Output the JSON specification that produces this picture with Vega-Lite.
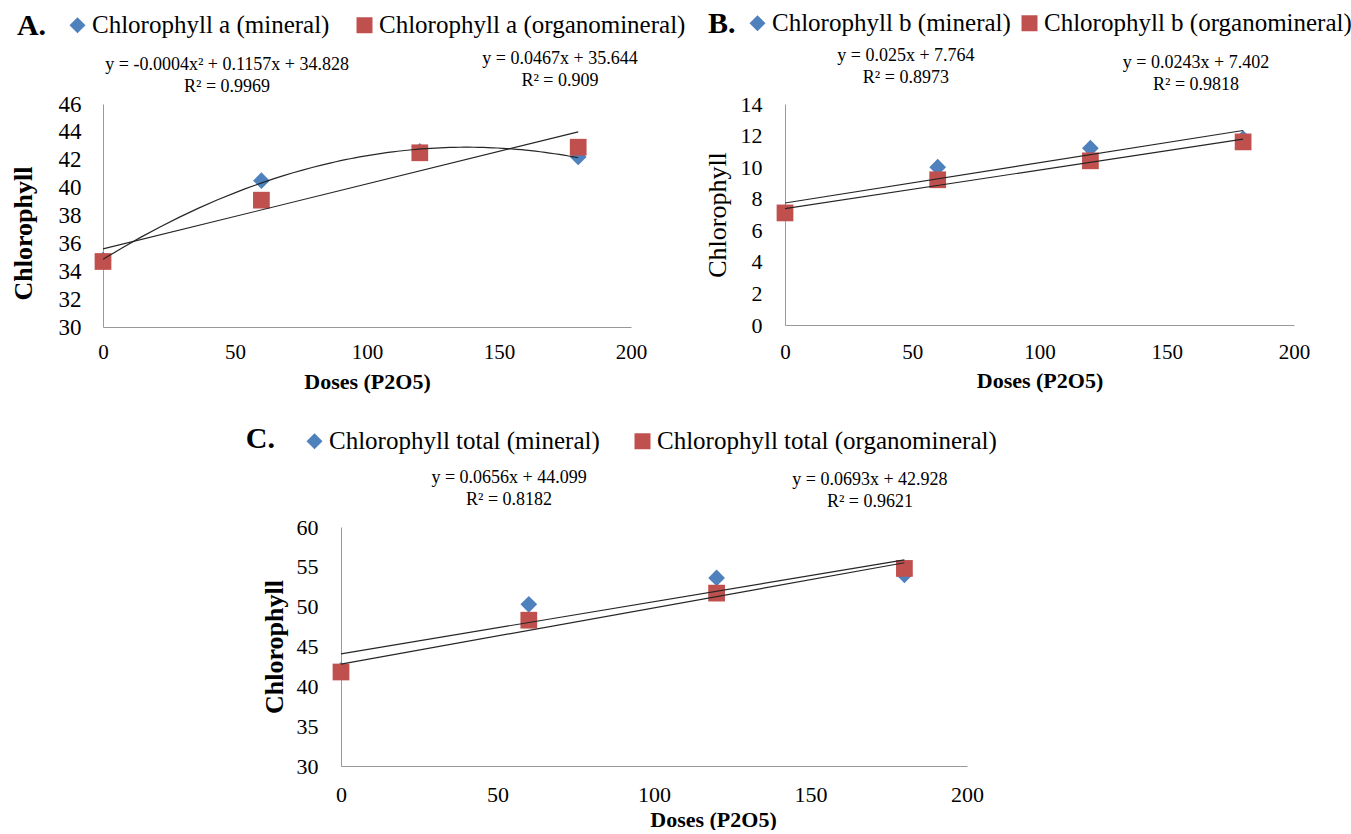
{
  "$schema": "https://vega.github.io/schema/vega-lite/v6.json",
  "background": "white",
  "padding": {"left": 10, "top": 9, "right": 0, "bottom": 0},
  "datasets": {
    "a": [
      {"dose": 0, "value": 34.8, "series": "Chlorophyll a (mineral)"},
      {"dose": 60, "value": 40.5, "series": "Chlorophyll a (mineral)"},
      {"dose": 120, "value": 42.6, "series": "Chlorophyll a (mineral)"},
      {"dose": 180, "value": 42.2, "series": "Chlorophyll a (mineral)"},
      {"dose": 0, "value": 34.7, "series": "Chlorophyll a (organomineral)"},
      {"dose": 60, "value": 39.1, "series": "Chlorophyll a (organomineral)"},
      {"dose": 120, "value": 42.5, "series": "Chlorophyll a (organomineral)"},
      {"dose": 180, "value": 42.9, "series": "Chlorophyll a (organomineral)"}
    ],
    "b": [
      {"dose": 0, "value": 7.1, "series": "Chlorophyll b (mineral)"},
      {"dose": 60, "value": 10.0, "series": "Chlorophyll b (mineral)"},
      {"dose": 120, "value": 11.2, "series": "Chlorophyll b (mineral)"},
      {"dose": 180, "value": 11.8, "series": "Chlorophyll b (mineral)"},
      {"dose": 0, "value": 7.1, "series": "Chlorophyll b (organomineral)"},
      {"dose": 60, "value": 9.2, "series": "Chlorophyll b (organomineral)"},
      {"dose": 120, "value": 10.4, "series": "Chlorophyll b (organomineral)"},
      {"dose": 180, "value": 11.6, "series": "Chlorophyll b (organomineral)"}
    ],
    "c": [
      {"dose": 0, "value": 42.0, "series": "Chlorophyll total (mineral)"},
      {"dose": 60, "value": 50.3, "series": "Chlorophyll total (mineral)"},
      {"dose": 120, "value": 53.6, "series": "Chlorophyll total (mineral)"},
      {"dose": 180, "value": 54.0, "series": "Chlorophyll total (mineral)"},
      {"dose": 0, "value": 41.8, "series": "Chlorophyll total (organomineral)"},
      {"dose": 60, "value": 48.3, "series": "Chlorophyll total (organomineral)"},
      {"dose": 120, "value": 51.7, "series": "Chlorophyll total (organomineral)"},
      {"dose": 180, "value": 54.8, "series": "Chlorophyll total (organomineral)"}
    ]
  },
  "config": {
    "view": {"stroke": null},
    "font": "Liberation Serif",
    "axis": {"grid": false, "ticks": false, "domainColor": "#999999", "domainWidth": 1, "labelColor": "black", "titleColor": "black", "labelFont": "Liberation Serif", "titleFont": "Liberation Serif", "labelFlush": false, "labelOverlap": false, "labelSeparation": 0, "labelBound": false},
    "axisY": {"labelOverlap": false},
    "axisQuantitative": {"labelOverlap": false},
    "legend": {"labelFont": "Liberation Serif", "labelColor": "black", "labelFontSize": 25, "labelLimit": 0, "symbolSize": 256, "labelOffset": 2, "padding": 0, "symbolStrokeWidth": 0, "direction": "horizontal", "orient": "none"},
    "text": {"font": "Liberation Serif", "color": "black"}
  },
  "resolve": {"scale": {"x": "independent", "y": "independent", "color": "independent", "shape": "independent"}, "legend": {"color": "independent", "shape": "independent"}},
  "spacing": 32,
  "align": "none",
  "center": false,
  "vconcat": [
    {
      "hconcat": [
        {
          "width": 528, "height": 223,
          "data": {"name": "a"},
          "layer": [
            {
              "mark": {"type": "point", "filled": true, "size": 280, "opacity": 1, "strokeWidth": 0},
              "encoding": {
                "x": {"field": "dose", "type": "quantitative", "scale": {"domain": [0, 200], "nice": false, "zero": false},
                  "axis": {"values": [0, 50, 100, 150, 200], "labelOverlap": false, "title": "Doses (P2O5)", "titleFontWeight": "bold", "titleFontSize": 22, "labelFontSize": 21, "labelPadding": 14, "titlePadding": 9}},
                "y": {"field": "value", "type": "quantitative", "scale": {"domain": [30, 46], "nice": false, "zero": false},
                  "axis": {"values": [30, 32, 34, 36, 38, 40, 42, 44, 46], "labelOverlap": false, "title": "Chlorophyll", "titleY": 129, "titleFontWeight": "bold", "titleFontSize": 26, "labelFontSize": 23, "labelPadding": 22, "titlePadding": 22}},
                "color": {"field": "series", "type": "nominal", "scale": {"domain": ["Chlorophyll a (mineral)", "Chlorophyll a (organomineral)"], "range": ["#4F81BD", "#C0504D"]},
                  "legend": {"title": null, "legendX": -38, "legendY": -91.5, "columnPadding": 22}},
                "shape": {"field": "series", "type": "nominal", "scale": {"domain": ["Chlorophyll a (mineral)", "Chlorophyll a (organomineral)"], "range": ["diamond", "square"]}}
              }
            },
            {
              "transform": [{"filter": {"field": "series", "equal": "Chlorophyll a (mineral)"}}, {"regression": "value", "on": "dose", "method": "poly", "order": 2}],
              "mark": {"type": "line", "color": "#262626", "strokeWidth": 1.2},
              "encoding": {
                "x": {"field": "dose", "type": "quantitative", "axis": {"values": [0, 50, 100, 150, 200], "labelOverlap": false, "title": "Doses (P2O5)", "titleFontWeight": "bold", "titleFontSize": 22, "labelFontSize": 21, "labelPadding": 14, "titlePadding": 9}},
                "y": {"field": "value", "type": "quantitative", "axis": {"values": [30, 32, 34, 36, 38, 40, 42, 44, 46], "labelOverlap": false, "title": "Chlorophyll", "titleY": 129, "titleFontWeight": "bold", "titleFontSize": 26, "labelFontSize": 23, "labelPadding": 22, "titlePadding": 22}}
              }
            },
            {
              "transform": [{"filter": {"field": "series", "equal": "Chlorophyll a (organomineral)"}}, {"regression": "value", "on": "dose", "method": "linear"}],
              "mark": {"type": "line", "color": "#262626", "strokeWidth": 1.2},
              "encoding": {
                "x": {"field": "dose", "type": "quantitative", "axis": {"values": [0, 50, 100, 150, 200], "labelOverlap": false, "title": "Doses (P2O5)", "titleFontWeight": "bold", "titleFontSize": 22, "labelFontSize": 21, "labelPadding": 14, "titlePadding": 9}},
                "y": {"field": "value", "type": "quantitative", "axis": {"values": [30, 32, 34, 36, 38, 40, 42, 44, 46], "labelOverlap": false, "title": "Chlorophyll", "titleY": 129, "titleFontWeight": "bold", "titleFontSize": 26, "labelFontSize": 23, "labelPadding": 22, "titlePadding": 22}}
              }
            },
            {
              "data": {"values": [{}]},
              "mark": {"type": "text", "text": ["y = -0.0004x² + 0.1157x + 34.828", "R² = 0.9969"], "fontSize": 18, "lineHeight": 22, "align": "center", "baseline": "alphabetic"},
              "encoding": {
                "x": {"datum": 47, "axis": {"values": [0, 50, 100, 150, 200], "labelOverlap": false, "title": "Doses (P2O5)", "titleFontWeight": "bold", "titleFontSize": 22, "labelFontSize": 21, "labelPadding": 14, "titlePadding": 9}},
                "y": {"datum": 48.44, "axis": {"values": [30, 32, 34, 36, 38, 40, 42, 44, 46], "labelOverlap": false, "title": "Chlorophyll", "titleY": 129, "titleFontWeight": "bold", "titleFontSize": 26, "labelFontSize": 23, "labelPadding": 22, "titlePadding": 22}}
              }
            },
            {
              "data": {"values": [{}]},
              "mark": {"type": "text", "text": ["y = 0.0467x + 35.644", "R² = 0.909"], "fontSize": 18, "lineHeight": 22, "align": "center", "baseline": "alphabetic"},
              "encoding": {
                "x": {"datum": 173.1, "axis": {"values": [0, 50, 100, 150, 200], "labelOverlap": false, "title": "Doses (P2O5)", "titleFontWeight": "bold", "titleFontSize": 22, "labelFontSize": 21, "labelPadding": 14, "titlePadding": 9}},
                "y": {"datum": 48.87, "axis": {"values": [30, 32, 34, 36, 38, 40, 42, 44, 46], "labelOverlap": false, "title": "Chlorophyll", "titleY": 129, "titleFontWeight": "bold", "titleFontSize": 26, "labelFontSize": 23, "labelPadding": 22, "titlePadding": 22}}
              }
            },
            {
              "data": {"values": [{}]},
              "mark": {"type": "text", "text": "A.", "fontSize": 30, "fontWeight": "bold", "align": "left", "baseline": "alphabetic"},
              "encoding": {
                "x": {"datum": -32.6, "axis": {"values": [0, 50, 100, 150, 200], "labelOverlap": false, "title": "Doses (P2O5)", "titleFontWeight": "bold", "titleFontSize": 22, "labelFontSize": 21, "labelPadding": 14, "titlePadding": 9}},
                "y": {"datum": 50.95, "axis": {"values": [30, 32, 34, 36, 38, 40, 42, 44, 46], "labelOverlap": false, "title": "Chlorophyll", "titleY": 129, "titleFontWeight": "bold", "titleFontSize": 26, "labelFontSize": 23, "labelPadding": 22, "titlePadding": 22}}
              }
            }
          ]
        },
        {
          "width": 509, "height": 221,
          "data": {"name": "b"},
          "layer": [
            {
              "mark": {"type": "point", "filled": true, "size": 280, "opacity": 1, "strokeWidth": 0},
              "encoding": {
                "x": {"field": "dose", "type": "quantitative", "scale": {"domain": [0, 200], "nice": false, "zero": false},
                  "axis": {"values": [0, 50, 100, 150, 200], "labelOverlap": false, "title": "Doses (P2O5)", "titleFontWeight": "bold", "titleFontSize": 22, "labelFontSize": 21, "labelPadding": 16, "titlePadding": 8}},
                "y": {"field": "value", "type": "quantitative", "scale": {"domain": [0, 14], "nice": false, "zero": false},
                  "axis": {"values": [0, 2, 4, 6, 8, 10, 12, 14], "labelOverlap": false, "title": "Chlorophyll", "titleFontWeight": "normal", "titleFontSize": 26, "labelFontSize": 22, "labelPadding": 23, "titlePadding": 10}},
                "color": {"field": "series", "type": "nominal", "scale": {"domain": ["Chlorophyll b (mineral)", "Chlorophyll b (organomineral)"], "range": ["#4F81BD", "#C0504D"]},
                  "legend": {"title": null, "legendX": -40, "legendY": -93.5, "columnPadding": 6}},
                "shape": {"field": "series", "type": "nominal", "scale": {"domain": ["Chlorophyll b (mineral)", "Chlorophyll b (organomineral)"], "range": ["diamond", "square"]}}
              }
            },
            {
              "transform": [{"filter": {"field": "series", "equal": "Chlorophyll b (mineral)"}}, {"regression": "value", "on": "dose", "method": "linear"}],
              "mark": {"type": "line", "color": "#262626", "strokeWidth": 1.2},
              "encoding": {
                "x": {"field": "dose", "type": "quantitative", "axis": {"values": [0, 50, 100, 150, 200], "labelOverlap": false, "title": "Doses (P2O5)", "titleFontWeight": "bold", "titleFontSize": 22, "labelFontSize": 21, "labelPadding": 16, "titlePadding": 8}},
                "y": {"field": "value", "type": "quantitative", "axis": {"values": [0, 2, 4, 6, 8, 10, 12, 14], "labelOverlap": false, "title": "Chlorophyll", "titleFontWeight": "normal", "titleFontSize": 26, "labelFontSize": 22, "labelPadding": 23, "titlePadding": 10}}
              }
            },
            {
              "transform": [{"filter": {"field": "series", "equal": "Chlorophyll b (organomineral)"}}, {"regression": "value", "on": "dose", "method": "linear"}],
              "mark": {"type": "line", "color": "#262626", "strokeWidth": 1.2},
              "encoding": {
                "x": {"field": "dose", "type": "quantitative", "axis": {"values": [0, 50, 100, 150, 200], "labelOverlap": false, "title": "Doses (P2O5)", "titleFontWeight": "bold", "titleFontSize": 22, "labelFontSize": 21, "labelPadding": 16, "titlePadding": 8}},
                "y": {"field": "value", "type": "quantitative", "axis": {"values": [0, 2, 4, 6, 8, 10, 12, 14], "labelOverlap": false, "title": "Chlorophyll", "titleFontWeight": "normal", "titleFontSize": 26, "labelFontSize": 22, "labelPadding": 23, "titlePadding": 10}}
              }
            },
            {
              "data": {"values": [{}]},
              "mark": {"type": "text", "text": ["y = 0.025x + 7.764", "R² = 0.8973"], "fontSize": 18, "lineHeight": 22, "align": "center", "baseline": "alphabetic"},
              "encoding": {
                "x": {"datum": 47.5, "axis": {"values": [0, 50, 100, 150, 200], "labelOverlap": false, "title": "Doses (P2O5)", "titleFontWeight": "bold", "titleFontSize": 22, "labelFontSize": 21, "labelPadding": 16, "titlePadding": 8}},
                "y": {"datum": 16.72, "axis": {"values": [0, 2, 4, 6, 8, 10, 12, 14], "labelOverlap": false, "title": "Chlorophyll", "titleFontWeight": "normal", "titleFontSize": 26, "labelFontSize": 22, "labelPadding": 23, "titlePadding": 10}}
              }
            },
            {
              "data": {"values": [{}]},
              "mark": {"type": "text", "text": ["y = 0.0243x + 7.402", "R² = 0.9818"], "fontSize": 18, "lineHeight": 22, "align": "center", "baseline": "alphabetic"},
              "encoding": {
                "x": {"datum": 161.5, "axis": {"values": [0, 50, 100, 150, 200], "labelOverlap": false, "title": "Doses (P2O5)", "titleFontWeight": "bold", "titleFontSize": 22, "labelFontSize": 21, "labelPadding": 16, "titlePadding": 8}},
                "y": {"datum": 16.28, "axis": {"values": [0, 2, 4, 6, 8, 10, 12, 14], "labelOverlap": false, "title": "Chlorophyll", "titleFontWeight": "normal", "titleFontSize": 26, "labelFontSize": 22, "labelPadding": 23, "titlePadding": 10}}
              }
            },
            {
              "data": {"values": [{}]},
              "mark": {"type": "text", "text": "B.", "fontSize": 30, "fontWeight": "bold", "align": "left", "baseline": "alphabetic"},
              "encoding": {
                "x": {"datum": -30.3, "axis": {"values": [0, 50, 100, 150, 200], "labelOverlap": false, "title": "Doses (P2O5)", "titleFontWeight": "bold", "titleFontSize": 22, "labelFontSize": 21, "labelPadding": 16, "titlePadding": 8}},
                "y": {"datum": 18.49, "axis": {"values": [0, 2, 4, 6, 8, 10, 12, 14], "labelOverlap": false, "title": "Chlorophyll", "titleFontWeight": "normal", "titleFontSize": 26, "labelFontSize": 22, "labelPadding": 23, "titlePadding": 10}}
              }
            }
          ]
        }
      ],
      "spacing": 18,
      "resolve": {"scale": {"x": "independent", "y": "independent", "color": "independent", "shape": "independent"}, "legend": {"color": "independent", "shape": "independent"}}
    },
    {
      "hconcat": [
        {
          "width": 142, "height": 1,
          "data": {"values": [{}]},
          "mark": {"type": "text", "text": ""},
          "encoding": {}
        },
        {
          "width": 626, "height": 239,
          "data": {"name": "c"},
          "layer": [
            {
              "mark": {"type": "point", "filled": true, "size": 280, "opacity": 1, "strokeWidth": 0},
              "encoding": {
                "x": {"field": "dose", "type": "quantitative", "scale": {"domain": [0, 200], "nice": false, "zero": false},
                  "axis": {"values": [0, 50, 100, 150, 200], "labelOverlap": false, "title": "Doses (P2O5)", "titleFontWeight": "bold", "titleFontSize": 22, "labelFontSize": 22, "labelPadding": 18, "titlePadding": 4, "titleX": 372}},
                "y": {"field": "value", "type": "quantitative", "scale": {"domain": [30, 60], "nice": false, "zero": false},
                  "axis": {"values": [30, 35, 40, 45, 50, 55, 60], "labelOverlap": false, "title": "Chlorophyll", "titleFontWeight": "bold", "titleFontSize": 26, "labelFontSize": 22, "labelPadding": 23, "titlePadding": 9}},
                "color": {"field": "series", "type": "nominal", "scale": {"domain": ["Chlorophyll total (mineral)", "Chlorophyll total (organomineral)"], "range": ["#4F81BD", "#C0504D"]},
                  "legend": {"title": null, "legendX": -39, "legendY": -98.5, "columnPadding": 30}},
                "shape": {"field": "series", "type": "nominal", "scale": {"domain": ["Chlorophyll total (mineral)", "Chlorophyll total (organomineral)"], "range": ["diamond", "square"]}}
              }
            },
            {
              "transform": [{"filter": {"field": "series", "equal": "Chlorophyll total (mineral)"}}, {"regression": "value", "on": "dose", "method": "linear"}],
              "mark": {"type": "line", "color": "#262626", "strokeWidth": 1.2},
              "encoding": {
                "x": {"field": "dose", "type": "quantitative", "axis": {"values": [0, 50, 100, 150, 200], "labelOverlap": false, "title": "Doses (P2O5)", "titleFontWeight": "bold", "titleFontSize": 22, "labelFontSize": 22, "labelPadding": 18, "titlePadding": 4, "titleX": 372}},
                "y": {"field": "value", "type": "quantitative", "axis": {"values": [30, 35, 40, 45, 50, 55, 60], "labelOverlap": false, "title": "Chlorophyll", "titleFontWeight": "bold", "titleFontSize": 26, "labelFontSize": 22, "labelPadding": 23, "titlePadding": 9}}
              }
            },
            {
              "transform": [{"filter": {"field": "series", "equal": "Chlorophyll total (organomineral)"}}, {"regression": "value", "on": "dose", "method": "linear"}],
              "mark": {"type": "line", "color": "#262626", "strokeWidth": 1.2},
              "encoding": {
                "x": {"field": "dose", "type": "quantitative", "axis": {"values": [0, 50, 100, 150, 200], "labelOverlap": false, "title": "Doses (P2O5)", "titleFontWeight": "bold", "titleFontSize": 22, "labelFontSize": 22, "labelPadding": 18, "titlePadding": 4, "titleX": 372}},
                "y": {"field": "value", "type": "quantitative", "axis": {"values": [30, 35, 40, 45, 50, 55, 60], "labelOverlap": false, "title": "Chlorophyll", "titleFontWeight": "bold", "titleFontSize": 26, "labelFontSize": 22, "labelPadding": 23, "titlePadding": 9}}
              }
            },
            {
              "data": {"values": [{}]},
              "mark": {"type": "text", "text": ["y = 0.0656x + 44.099", "R² = 0.8182"], "fontSize": 18, "lineHeight": 22, "align": "center", "baseline": "alphabetic"},
              "encoding": {
                "x": {"datum": 53.7, "axis": {"values": [0, 50, 100, 150, 200], "labelOverlap": false, "title": "Doses (P2O5)", "titleFontWeight": "bold", "titleFontSize": 22, "labelFontSize": 22, "labelPadding": 18, "titlePadding": 4, "titleX": 372}},
                "y": {"datum": 65.52, "axis": {"values": [30, 35, 40, 45, 50, 55, 60], "labelOverlap": false, "title": "Chlorophyll", "titleFontWeight": "bold", "titleFontSize": 26, "labelFontSize": 22, "labelPadding": 23, "titlePadding": 9}}
              }
            },
            {
              "data": {"values": [{}]},
              "mark": {"type": "text", "text": ["y = 0.0693x + 42.928", "R² = 0.9621"], "fontSize": 18, "lineHeight": 22, "align": "center", "baseline": "alphabetic"},
              "encoding": {
                "x": {"datum": 169.0, "axis": {"values": [0, 50, 100, 150, 200], "labelOverlap": false, "title": "Doses (P2O5)", "titleFontWeight": "bold", "titleFontSize": 22, "labelFontSize": 22, "labelPadding": 18, "titlePadding": 4, "titleX": 372}},
                "y": {"datum": 65.27, "axis": {"values": [30, 35, 40, 45, 50, 55, 60], "labelOverlap": false, "title": "Chlorophyll", "titleFontWeight": "bold", "titleFontSize": 26, "labelFontSize": 22, "labelPadding": 23, "titlePadding": 9}}
              }
            },
            {
              "data": {"values": [{}]},
              "mark": {"type": "text", "text": "C.", "fontSize": 30, "fontWeight": "bold", "align": "left", "baseline": "alphabetic"},
              "encoding": {
                "x": {"datum": -30.4, "axis": {"values": [0, 50, 100, 150, 200], "labelOverlap": false, "title": "Doses (P2O5)", "titleFontWeight": "bold", "titleFontSize": 22, "labelFontSize": 22, "labelPadding": 18, "titlePadding": 4, "titleX": 372}},
                "y": {"datum": 69.91, "axis": {"values": [30, 35, 40, 45, 50, 55, 60], "labelOverlap": false, "title": "Chlorophyll", "titleFontWeight": "bold", "titleFontSize": 26, "labelFontSize": 22, "labelPadding": 23, "titlePadding": 9}}
              }
            }
          ]
        }
      ],
      "spacing": 0,
      "resolve": {"scale": {"x": "independent", "y": "independent", "color": "independent", "shape": "independent"}, "legend": {"color": "independent", "shape": "independent"}}
    }
  ]
}
